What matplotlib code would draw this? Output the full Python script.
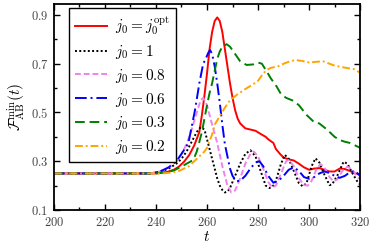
import matplotlib
matplotlib.use("Agg")
import matplotlib.pyplot as plt
from matplotlib.ticker import MultipleLocator, FormatStrFormatter

plt.rcParams['mathtext.fontset'] = 'cm'
plt.rcParams['font.family'] = 'serif'

# values (t, F_min_AB)
t_opt = [200, 240, 244, 247, 249, 251, 253, 255, 257, 258, 259, 260, 261, 262, 263, 264, 265, 266,
         267, 268, 269, 270, 271, 272, 273, 275, 277, 279, 281, 283, 284, 286, 287, 288.6, 290, 292,
         294, 296, 298, 300, 302, 304, 306, 308, 310, 312, 314, 316, 318, 320]
f_opt = [0.25, 0.25, 0.255, 0.265, 0.278, 0.298, 0.325, 0.365, 0.42, 0.49, 0.57, 0.66, 0.76, 0.83,
         0.875, 0.89, 0.875, 0.83, 0.76, 0.69, 0.62, 0.56, 0.51, 0.475, 0.455, 0.435, 0.43, 0.425,
         0.412, 0.40, 0.39, 0.375, 0.35, 0.33, 0.315, 0.308, 0.303, 0.29, 0.275, 0.265, 0.27, 0.272,
         0.265, 0.258, 0.258, 0.27, 0.268, 0.26, 0.25, 0.245]

t_1 = [200, 238, 242, 245, 248, 250, 252, 254, 256, 257.5, 259, 260, 261, 262, 263, 264, 265, 266,
       267, 268, 269, 271, 273, 275, 277, 279, 281, 283, 284.5, 286, 287, 289, 290.5, 292, 294, 296,
       297.5, 299, 301, 302.5, 304, 306, 308, 309, 311, 313.5, 315, 317, 319, 320]
f_1 = [0.25, 0.25, 0.258, 0.27, 0.29, 0.31, 0.34, 0.38, 0.42, 0.44, 0.43, 0.39, 0.35, 0.31, 0.27,
       0.23, 0.2, 0.182, 0.172, 0.175, 0.19, 0.24, 0.29, 0.33, 0.345, 0.32, 0.26, 0.2, 0.19, 0.2,
       0.22, 0.29, 0.326, 0.31, 0.26, 0.21, 0.197, 0.21, 0.28, 0.312, 0.295, 0.245, 0.202, 0.205,
       0.24, 0.298, 0.29, 0.25, 0.215, 0.205]

t_08 = [200, 238, 242, 245, 248, 250, 252, 254, 256, 257.5, 258.5, 260, 261, 262, 264, 266, 268,
        269.5, 271, 273, 275, 277, 278.3, 280, 282, 284, 285.5, 287, 289, 291, 292, 294, 296, 298,
        299.5, 301, 303, 304.5, 306, 308, 309.5, 311, 313, 315, 317, 319, 320]
f_08 = [0.25, 0.25, 0.26, 0.275, 0.3, 0.33, 0.37, 0.43, 0.5, 0.55, 0.56, 0.53, 0.49, 0.45, 0.375,
        0.28, 0.2, 0.172, 0.18, 0.23, 0.29, 0.33, 0.34, 0.32, 0.27, 0.215, 0.192, 0.2, 0.25, 0.3,
        0.305, 0.28, 0.23, 0.202, 0.2, 0.22, 0.27, 0.288, 0.275, 0.235, 0.218, 0.225, 0.26, 0.278,
        0.265, 0.235, 0.225]

t_06 = [200, 238, 242, 245, 248, 250, 252.7, 255.3, 257, 258.5, 259.5, 260.5, 261.2, 262, 263, 264,
        265, 266, 267, 268, 269, 270, 271.5, 273, 275, 277, 279, 280.5, 282, 284, 286, 288, 290, 292,
        294, 296, 298, 300, 302, 304, 306, 308, 310, 312, 314, 316, 318, 320]
f_06 = [0.25, 0.25, 0.26, 0.275, 0.3, 0.33, 0.374, 0.51, 0.62, 0.7, 0.72, 0.745, 0.756, 0.74, 0.69,
        0.62, 0.54, 0.45, 0.37, 0.32, 0.27, 0.24, 0.218, 0.22, 0.24, 0.27, 0.295, 0.3, 0.28, 0.24,
        0.212, 0.22, 0.24, 0.265, 0.275, 0.26, 0.235, 0.228, 0.235, 0.25, 0.258, 0.252, 0.24, 0.232,
        0.24, 0.255, 0.26, 0.24]

t_03 = [200, 240, 244, 247, 250, 252, 254.6, 256, 258, 260, 261, 262, 263, 264, 265, 266, 267.7,
        269, 271, 273, 275.5, 278, 280, 281.5, 283.4, 285, 287.3, 289, 291, 293.8, 296, 299, 302,
        304, 307, 310, 312, 314, 316, 318, 320]
f_03 = [0.25, 0.25, 0.255, 0.262, 0.278, 0.29, 0.305, 0.34, 0.42, 0.53, 0.58, 0.62, 0.67, 0.72,
        0.75, 0.77, 0.78, 0.77, 0.74, 0.71, 0.695, 0.697, 0.705, 0.7, 0.668, 0.64, 0.606, 0.575,
        0.56, 0.548, 0.53, 0.49, 0.46, 0.455, 0.43, 0.4, 0.387, 0.38, 0.375, 0.365, 0.355]

t_02 = [200, 242, 246, 249, 251, 253, 255, 257, 259, 260, 262, 263, 265, 267, 269, 272, 275.6, 278,
        280, 282, 283.5, 285, 288, 290, 292, 294.5, 297, 300, 303, 305.5, 308, 310, 312, 315, 317.5,
        320]
f_02 = [0.25, 0.25, 0.253, 0.26, 0.27, 0.28, 0.3, 0.32, 0.34, 0.355, 0.41, 0.45, 0.485, 0.52, 0.55,
        0.575, 0.6, 0.615, 0.63, 0.66, 0.675, 0.683, 0.69, 0.7, 0.708, 0.715, 0.712, 0.705, 0.708,
        0.71, 0.7, 0.692, 0.688, 0.682, 0.678, 0.663]

fig = plt.figure(figsize=(3.74, 2.5), dpi=100)
ax = fig.add_axes([0.144, 0.16, 0.819, 0.824])

lw = 1.4
ax.plot(t_opt, f_opt, color='red', lw=lw, label=r'$j_0 = j_0^{\rm opt}$')
ax.plot(t_1, f_1, color='black', lw=lw, ls=(0, (1, 1.2)), label=r'$j_0 = 1$')
ax.plot(t_08, f_08, color='violet', lw=lw, ls=(0, (3, 1.5)), label=r'$j_0 = 0.8$')
ax.plot(t_06, f_06, color='blue', lw=lw, ls=(0, (6, 2, 1, 2)), label=r'$j_0 = 0.6$')
ax.plot(t_03, f_03, color='green', lw=lw, ls=(0, (5, 2.5)), label=r'$j_0 = 0.3$')
ax.plot(t_02, f_02, color='orange', lw=lw, ls=(0, (4, 1.5, 1, 1.5)), label=r'$j_0 = 0.2$')

ax.set_xlim(200, 320)
ax.set_ylim(0.1, 0.945)
ax.xaxis.set_major_locator(MultipleLocator(20))
ax.xaxis.set_minor_locator(MultipleLocator(10))
ax.yaxis.set_minor_locator(MultipleLocator(0.1))
ax.set_yticks([0.1, 0.3, 0.5, 0.7, 0.9])
ax.xaxis.set_major_formatter(FormatStrFormatter('$%d$'))
ax.yaxis.set_major_formatter(FormatStrFormatter('$%.1f$'))
ax.tick_params(which='both', direction='in', top=True, right=True, width=1.0,
               labelsize=9, labelcolor='#444444', pad=4)
ax.tick_params(which='major', length=4)
ax.tick_params(which='minor', length=2.5)
for s in ax.spines.values():
    s.set_linewidth(1.3)

ax.set_xlabel(r'$t$', fontsize=11, labelpad=1)
ax.set_ylabel(r'$\mathcal{F}_{\rm AB}^{\rm min}(t)$', fontsize=11, labelpad=2)

leg = ax.legend(loc='upper left', bbox_to_anchor=(0.049, 0.979), borderaxespad=0,
                fontsize=11, fancybox=False, framealpha=1, edgecolor='black',
                handlelength=2.1, labelspacing=0.38, borderpad=0.4, handletextpad=0.5)
leg.get_frame().set_linewidth(1.0)

fig.savefig('out.png', dpi=100)
